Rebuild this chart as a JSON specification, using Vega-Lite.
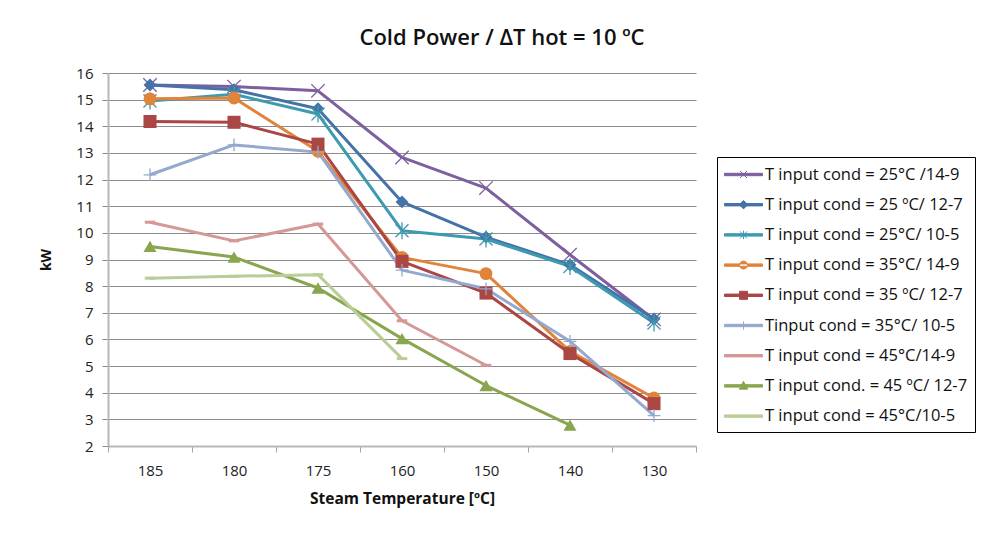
{
  "$schema": "https://vega.github.io/schema/vega-lite/v6.json",
  "width": 588,
  "height": 373,
  "autosize": {"type": "none"},
  "padding": {"left": 108, "top": 73, "right": 290, "bottom": 89},
  "background": "white",
  "config": {
    "font": "Open Sans",
    "view": {"stroke": null},
    "axis": {"labelFont": "Open Sans", "titleFont": "Open Sans", "labelColor": "#222222", "titleColor": "#111111"}
  },
  "title": {
    "text": "Cold Power / ΔT hot = 10 ºC",
    "fontSize": 22,
    "fontWeight": 600,
    "color": "#111111",
    "anchor": "middle",
    "frame": "group",
    "dx": 100,
    "offset": 16
  },
  "data": {
    "values": [
      {"series": "T input cond = 25°C /14-9", "temp": "185", "kW": 15.55},
      {"series": "T input cond = 25°C /14-9", "temp": "180", "kW": 15.49},
      {"series": "T input cond = 25°C /14-9", "temp": "175", "kW": 15.33},
      {"series": "T input cond = 25°C /14-9", "temp": "160", "kW": 12.83},
      {"series": "T input cond = 25°C /14-9", "temp": "150", "kW": 11.68},
      {"series": "T input cond = 25°C /14-9", "temp": "140", "kW": 9.18},
      {"series": "T input cond = 25°C /14-9", "temp": "130", "kW": 6.75},
      {"series": "T input cond = 25 ºC/ 12-7", "temp": "185", "kW": 15.55},
      {"series": "T input cond = 25 ºC/ 12-7", "temp": "180", "kW": 15.37},
      {"series": "T input cond = 25 ºC/ 12-7", "temp": "175", "kW": 14.66},
      {"series": "T input cond = 25 ºC/ 12-7", "temp": "160", "kW": 11.16},
      {"series": "T input cond = 25 ºC/ 12-7", "temp": "150", "kW": 9.84},
      {"series": "T input cond = 25 ºC/ 12-7", "temp": "140", "kW": 8.8},
      {"series": "T input cond = 25 ºC/ 12-7", "temp": "130", "kW": 6.77},
      {"series": "T input cond = 25°C/ 10-5", "temp": "185", "kW": 14.95},
      {"series": "T input cond = 25°C/ 10-5", "temp": "180", "kW": 15.2},
      {"series": "T input cond = 25°C/ 10-5", "temp": "175", "kW": 14.46},
      {"series": "T input cond = 25°C/ 10-5", "temp": "160", "kW": 10.08},
      {"series": "T input cond = 25°C/ 10-5", "temp": "150", "kW": 9.77},
      {"series": "T input cond = 25°C/ 10-5", "temp": "140", "kW": 8.74},
      {"series": "T input cond = 25°C/ 10-5", "temp": "130", "kW": 6.62},
      {"series": "T input cond = 35°C/ 14-9", "temp": "185", "kW": 15.03},
      {"series": "T input cond = 35°C/ 14-9", "temp": "180", "kW": 15.06},
      {"series": "T input cond = 35°C/ 14-9", "temp": "175", "kW": 13.06},
      {"series": "T input cond = 35°C/ 14-9", "temp": "160", "kW": 9.08},
      {"series": "T input cond = 35°C/ 14-9", "temp": "150", "kW": 8.47},
      {"series": "T input cond = 35°C/ 14-9", "temp": "140", "kW": 5.55},
      {"series": "T input cond = 35°C/ 14-9", "temp": "130", "kW": 3.8},
      {"series": "T input cond = 35 ºC/ 12-7", "temp": "185", "kW": 14.18},
      {"series": "T input cond = 35 ºC/ 12-7", "temp": "180", "kW": 14.15},
      {"series": "T input cond = 35 ºC/ 12-7", "temp": "175", "kW": 13.33},
      {"series": "T input cond = 35 ºC/ 12-7", "temp": "160", "kW": 8.93},
      {"series": "T input cond = 35 ºC/ 12-7", "temp": "150", "kW": 7.74},
      {"series": "T input cond = 35 ºC/ 12-7", "temp": "140", "kW": 5.47},
      {"series": "T input cond = 35 ºC/ 12-7", "temp": "130", "kW": 3.59},
      {"series": "Tinput cond = 35°C/ 10-5", "temp": "185", "kW": 12.18},
      {"series": "Tinput cond = 35°C/ 10-5", "temp": "180", "kW": 13.3},
      {"series": "Tinput cond = 35°C/ 10-5", "temp": "175", "kW": 13.03},
      {"series": "Tinput cond = 35°C/ 10-5", "temp": "160", "kW": 8.6},
      {"series": "Tinput cond = 35°C/ 10-5", "temp": "150", "kW": 7.9},
      {"series": "Tinput cond = 35°C/ 10-5", "temp": "140", "kW": 5.93},
      {"series": "Tinput cond = 35°C/ 10-5", "temp": "130", "kW": 3.14},
      {"series": "T input cond = 45°C/14-9", "temp": "185", "kW": 10.4},
      {"series": "T input cond = 45°C/14-9", "temp": "180", "kW": 9.7},
      {"series": "T input cond = 45°C/14-9", "temp": "175", "kW": 10.33},
      {"series": "T input cond = 45°C/14-9", "temp": "160", "kW": 6.7},
      {"series": "T input cond = 45°C/14-9", "temp": "150", "kW": 5.03},
      {"series": "T input cond. = 45 ºC/ 12-7", "temp": "185", "kW": 9.49},
      {"series": "T input cond. = 45 ºC/ 12-7", "temp": "180", "kW": 9.09},
      {"series": "T input cond. = 45 ºC/ 12-7", "temp": "175", "kW": 7.93},
      {"series": "T input cond. = 45 ºC/ 12-7", "temp": "160", "kW": 6.03},
      {"series": "T input cond. = 45 ºC/ 12-7", "temp": "150", "kW": 4.27},
      {"series": "T input cond. = 45 ºC/ 12-7", "temp": "140", "kW": 2.78},
      {"series": "T input cond = 45°C/10-5", "temp": "185", "kW": 8.3},
      {"series": "T input cond = 45°C/10-5", "temp": "180", "kW": 8.37},
      {"series": "T input cond = 45°C/10-5", "temp": "175", "kW": 8.43},
      {"series": "T input cond = 45°C/10-5", "temp": "160", "kW": 5.28}
    ]
  },
  "encoding": {
    "x": {
      "field": "temp",
      "type": "nominal",
      "sort": ["185", "180", "175", "160", "150", "140", "130"],
      "scale": {"type": "band", "paddingInner": 0, "paddingOuter": 0},
      "bandPosition": 0.5,
      "axis": {
        "title": "Steam Temperature [ºC]",
        "titleFontSize": 15.5,
        "titleFontWeight": "bold",
        "titlePadding": 13,
        "labelFontSize": 15,
        "labelAngle": 0,
        "labelPadding": 11,
        "tickBand": "extent",
        "tickSize": 6,
        "tickColor": "#a6a6a6",
        "domainColor": "#b8b8b8",
        "domainWidth": 2,
        "grid": false
      }
    },
    "y": {
      "field": "kW",
      "type": "quantitative",
      "scale": {"domain": [2, 16], "nice": false, "zero": false},
      "axis": {
        "title": "kW",
        "titleFontSize": 14,
        "titleFontWeight": "bold",
        "titlePadding": 22,
        "values": [2, 3, 4, 5, 6, 7, 8, 9, 10, 11, 12, 13, 14, 15, 16],
        "labelFontSize": 15,
        "labelPadding": 9,
        "tickSize": 6,
        "tickColor": "#8a8a8a",
        "domainColor": "#b8b8b8",
        "domainWidth": 2,
        "grid": true,
        "gridColor": "#8c8c8c",
        "gridWidth": 1
      }
    },
    "color": {
      "field": "series",
      "type": "nominal",
      "scale": {
        "domain": [
          "T input cond = 25°C /14-9",
          "T input cond = 25 ºC/ 12-7",
          "T input cond = 25°C/ 10-5",
          "T input cond = 35°C/ 14-9",
          "T input cond = 35 ºC/ 12-7",
          "Tinput cond = 35°C/ 10-5",
          "T input cond = 45°C/14-9",
          "T input cond. = 45 ºC/ 12-7",
          "T input cond = 45°C/10-5"
        ],
        "range": ["#7d5fa0", "#4572a7", "#3d9ab0", "#e0843a", "#aa4643", "#93a9cf", "#d49896", "#89a54e", "#b9cd96"]
      },
      "legend": null
    }
  },
  "layer": [
    {
      "mark": {"type": "line", "strokeWidth": 3, "strokeJoin": "round"},
      "encoding": {
        "color": {
          "field": "series",
          "type": "nominal",
          "legend": {
            "title": null,
            "orient": "none",
            "legendX": 609,
            "legendY": 84,
            "strokeColor": "#000000",
            "fillColor": "white",
            "padding": 7,
            "rowPadding": 11.2,
            "symbolSize": 400,
            "labelOffset": 20,
            "labelFontSize": 16.5,
            "labelFont": "Open Sans",
            "labelColor": "#111111",
            "labelLimit": 300,
            "encode": {
              "symbols": {
                "update": {
                  "shape": {"signal": "['M-1,-0.12H2.8V0.12H-1ZM0.55,-0.35L1.25,0.35M0.55,0.35L1.25,-0.35', 'M-1,-0.12H2.8V0.12H-1ZM0.9,-0.42L1.32,0L0.9,0.42L0.48,0Z', 'M-1,-0.12H2.8V0.12H-1ZM0.55,-0.35L1.25,0.35M0.55,0.35L1.25,-0.35M0.9,-0.42V0.42', 'M-1,-0.12H2.8V0.12H-1ZM0.5,0A0.4,0.4,0,1,0,1.3,0A0.4,0.4,0,1,0,0.5,0Z', 'M-1,-0.12H2.8V0.12H-1ZM0.5,-0.4H1.3V0.4H0.5Z', 'M-1,-0.12H2.8V0.12H-1ZM0.9,-0.42V0.42', 'M-1,-0.12H2.8V0.12H-1Z', 'M-1,-0.12H2.8V0.12H-1ZM0.9,-0.45L1.32,0.33H0.48Z', 'M-1,-0.12H2.8V0.12H-1Z'][indexof(['T input cond = 25°C /14-9', 'T input cond = 25 ºC/ 12-7', 'T input cond = 25°C/ 10-5', 'T input cond = 35°C/ 14-9', 'T input cond = 35 ºC/ 12-7', 'Tinput cond = 35°C/ 10-5', 'T input cond = 45°C/14-9', 'T input cond. = 45 ºC/ 12-7', 'T input cond = 45°C/10-5'], datum.value)]"},
                  "fill": {"scale": "color", "field": "value"},
                  "stroke": {"scale": "color", "field": "value"},
                  "strokeWidth": {"value": 1},
                  "size": {"value": 400},
                  "opacity": {"value": 1},
                  "fillOpacity": {"value": 1},
                  "strokeOpacity": {"value": 1}
                }
              }
            }
          }
        }
      }
    },
    {
      "transform": [{"filter": {"field": "series", "equal": "T input cond = 25°C /14-9"}}],
      "mark": {"type": "point", "shape": "M-1,-1L1,1M-1,1L1,-1", "filled": false, "opacity": 1, "size": 180, "strokeWidth": 1.3},
      "encoding": {}
    },
    {
      "transform": [{"filter": {"field": "series", "equal": "T input cond = 25 ºC/ 12-7"}}],
      "mark": {"type": "point", "shape": "diamond", "filled": true, "opacity": 1, "size": 165},
      "encoding": {}
    },
    {
      "transform": [{"filter": {"field": "series", "equal": "T input cond = 25°C/ 10-5"}}],
      "mark": {"type": "point", "shape": "M-1,-1L1,1M-1,1L1,-1M0,-1.3V1.3", "filled": false, "opacity": 1, "size": 170, "strokeWidth": 1.3},
      "encoding": {}
    },
    {
      "transform": [{"filter": {"field": "series", "equal": "T input cond = 35°C/ 14-9"}}],
      "mark": {"type": "point", "shape": "circle", "filled": true, "opacity": 1, "size": 165},
      "encoding": {}
    },
    {
      "transform": [{"filter": {"field": "series", "equal": "T input cond = 35 ºC/ 12-7"}}],
      "mark": {"type": "point", "shape": "square", "filled": true, "opacity": 1, "size": 170},
      "encoding": {}
    },
    {
      "transform": [{"filter": {"field": "series", "equal": "Tinput cond = 35°C/ 10-5"}}],
      "mark": {"type": "point", "shape": "M-1,0H1M0,-1V1", "filled": false, "opacity": 1, "size": 160, "strokeWidth": 1.3},
      "encoding": {}
    },
    {
      "transform": [{"filter": {"field": "series", "oneOf": ["T input cond = 45°C/14-9", "T input cond = 45°C/10-5"]}}],
      "mark": {"type": "point", "shape": "M-1,0H1", "filled": false, "opacity": 1, "size": 110, "strokeWidth": 3},
      "encoding": {}
    },
    {
      "transform": [{"filter": {"field": "series", "equal": "T input cond. = 45 ºC/ 12-7"}}],
      "mark": {"type": "point", "shape": "triangle-up", "filled": true, "opacity": 1, "size": 170},
      "encoding": {}
    }
  ]
}
